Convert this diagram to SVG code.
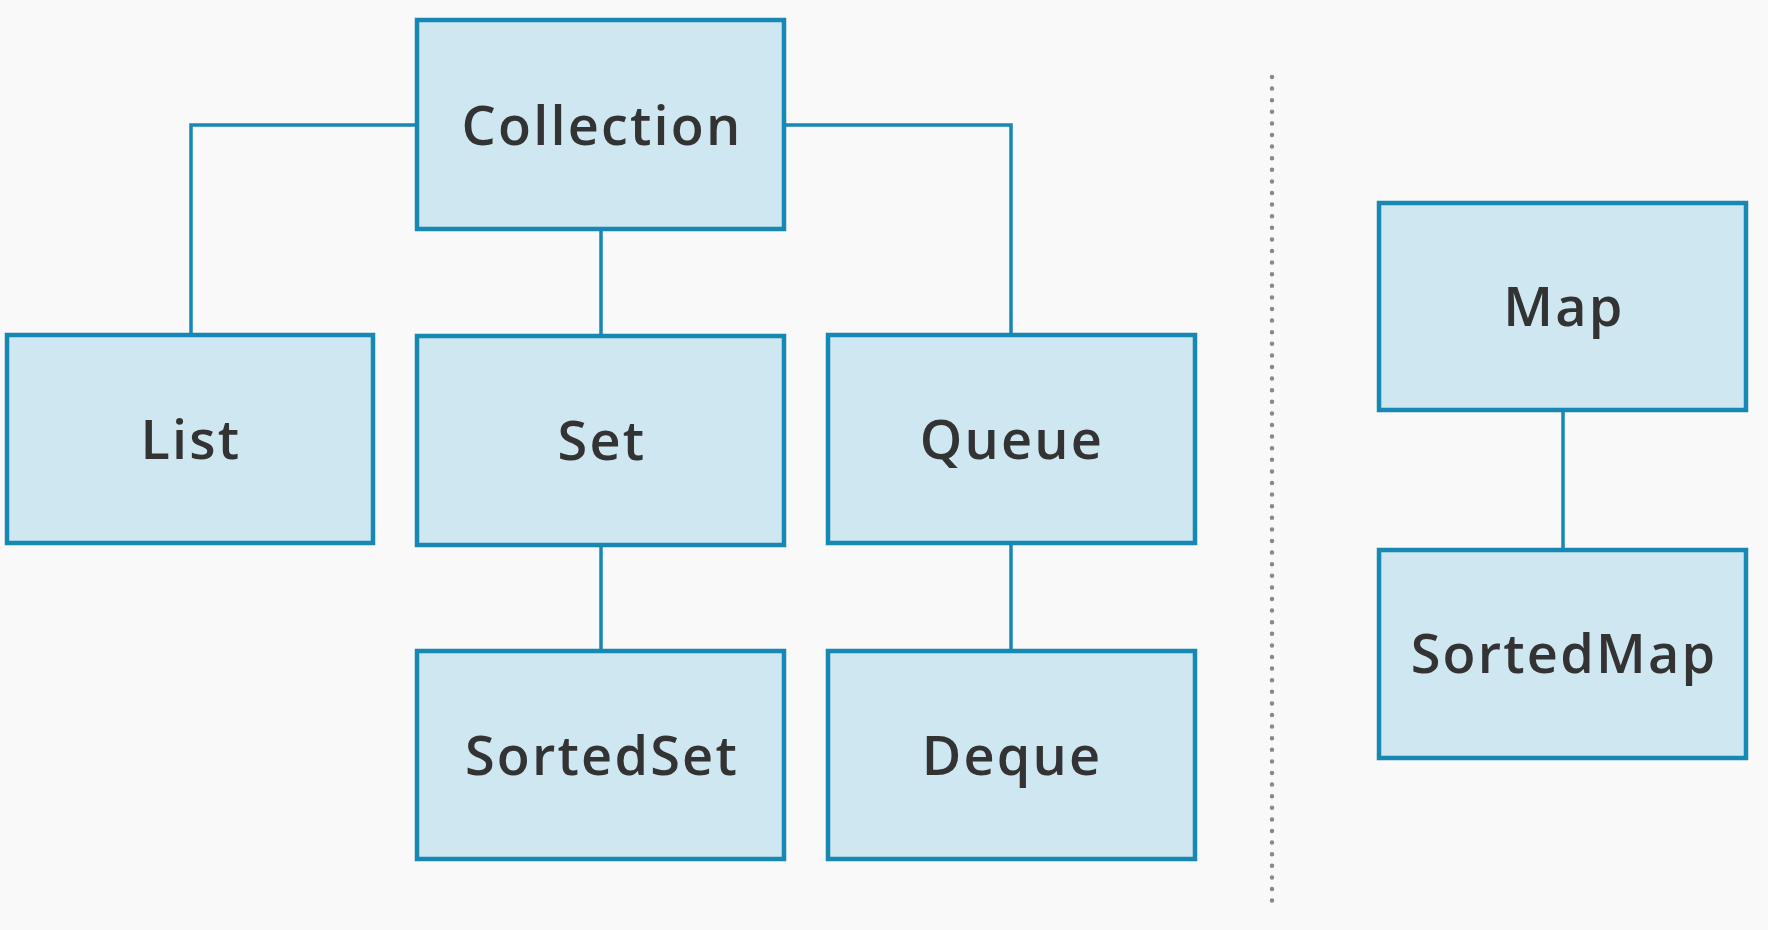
<svg xmlns="http://www.w3.org/2000/svg" width="1768" height="930" viewBox="0 0 1768 930">
<style>
.box{fill:#cfe7f1;stroke:#1787b3;stroke-width:4.5}
.lbl{font-family:"Open Sans","Liberation Sans",sans-serif;font-size:54px;font-weight:600;fill:#333333;text-anchor:middle;letter-spacing:2.2px}
.con{fill:none;stroke:#1787b3;stroke-width:3.5}
.sep{fill:none;stroke:#8a8a8a;stroke-width:4.5;stroke-linecap:round;stroke-dasharray:0 11.6}
</style>
<rect width="1768" height="930" fill="#f9f9f9"/>
<g id="connectors">
<polyline class="con" points="417,125 191,125 191,335"/>
<polyline class="con" points="784,125 1011,125 1011,335"/>
<line class="con" x1="601" y1="229" x2="601" y2="336"/>
<line class="con" x1="601" y1="545" x2="601" y2="651"/>
<line class="con" x1="1011" y1="543" x2="1011" y2="651"/>
<line class="con" x1="1563" y1="410" x2="1563" y2="550"/>
</g>
<line id="separator" class="sep" x1="1272" y1="77" x2="1272" y2="907"/>
<g id="collection"><rect class="box" x="417" y="20" width="367" height="209"/><text class="lbl" x="602" y="145">Collection</text></g>
<g id="list"><rect class="box" x="7" y="335" width="366" height="208"/><text class="lbl" x="191" y="459">List</text></g>
<g id="set"><rect class="box" x="417" y="336" width="367" height="209"/><text class="lbl" x="602" y="460">Set</text></g>
<g id="queue"><rect class="box" x="828" y="335" width="367" height="208"/><text class="lbl" x="1012" y="459">Queue</text></g>
<g id="sortedset"><rect class="box" x="417" y="651" width="367" height="208"/><text class="lbl" x="602" y="775">SortedSet</text></g>
<g id="deque"><rect class="box" x="828" y="651" width="367" height="208"/><text class="lbl" x="1012" y="775">Deque</text></g>
<g id="map"><rect class="box" x="1379" y="203" width="367" height="207"/><text class="lbl" x="1564" y="326">Map</text></g>
<g id="sortedmap"><rect class="box" x="1379" y="550" width="367" height="208"/><text class="lbl" x="1564" y="673">SortedMap</text></g>
</svg>
